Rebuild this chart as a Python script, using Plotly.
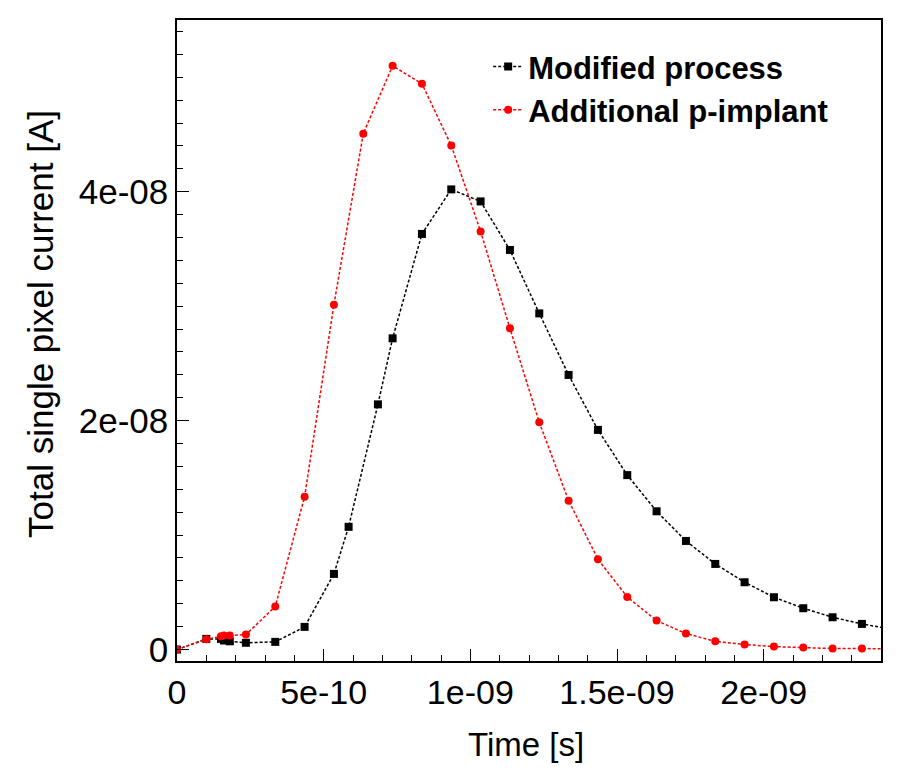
import plotly.graph_objects as go

# Time values [s]
t_mod = [0, 1.0e-10, 1.5e-10, 1.6e-10, 1.8e-10, 2.35e-10, 3.35e-10, 4.35e-10, 5.35e-10, 5.85e-10,
         6.85e-10, 7.35e-10, 8.35e-10, 9.35e-10, 10.35e-10, 11.35e-10, 12.35e-10, 13.35e-10,
         14.35e-10, 15.35e-10, 16.35e-10, 17.35e-10, 18.35e-10, 19.35e-10, 20.35e-10, 21.35e-10,
         22.35e-10, 23.35e-10, 24.35e-10]
i_mod = [0, 9.3e-10, 9.3e-10, 7.9e-10, 7.2e-10, 5.9e-10, 6.7e-10, 1.98e-09, 6.61e-09, 1.072e-08,
         2.142e-08, 2.719e-08, 3.631e-08, 4.020e-08, 3.915e-08, 3.491e-08, 2.937e-08, 2.399e-08,
         1.919e-08, 1.524e-08, 1.208e-08, 9.49e-09, 7.48e-09, 5.88e-09, 4.57e-09, 3.61e-09,
         2.82e-09, 2.24e-09, 1.78e-09]

t_imp = [0, 1.0e-10, 1.5e-10, 1.6e-10, 1.8e-10, 2.35e-10, 3.35e-10, 4.35e-10, 5.35e-10, 6.35e-10,
         7.35e-10, 8.35e-10, 9.35e-10, 10.35e-10, 11.35e-10, 12.35e-10, 13.35e-10, 14.35e-10,
         15.35e-10, 16.35e-10, 17.35e-10, 18.35e-10, 19.35e-10, 20.35e-10, 21.35e-10, 22.35e-10,
         23.35e-10, 24.35e-10]
i_imp = [0, 9.0e-10, 1.16e-09, 1.22e-09, 1.22e-09, 1.31e-09, 3.76e-09, 1.336e-08, 3.013e-08, 4.507e-08,
         5.100e-08, 4.943e-08, 4.404e-08, 3.653e-08, 2.806e-08, 1.985e-08, 1.301e-08, 7.89e-09,
         4.59e-09, 2.53e-09, 1.40e-09, 7.2e-10, 4.4e-10, 2.6e-10, 1.7e-10, 0.9e-10,
         0.9e-10, 0.5e-10]

names = ["Modified process", "Additional p-implant"]
x_tickvals = [0, 5e-10, 1e-09, 1.5e-09, 2e-09]
x_ticktext = ["0", "5e-10", "1e-09", "1.5e-09", "2e-09"]
y_tickvals = [0, 2e-08, 4e-08]
y_ticktext = ["0", "2e-08", "4e-08"]
x_title = "Time [s]"
y_title = "Total single pixel current [A]"

FONT = "Liberation Sans, Arial, sans-serif"

fig = go.Figure()
fig.add_trace(go.Scatter(
    x=t_mod, y=i_mod, name=names[0], mode="lines+markers",
    line=dict(color="black", width=1.5, dash="3px,2px"),
    marker=dict(symbol="square", size=8, color="black"),
))
fig.add_trace(go.Scatter(
    x=t_imp, y=i_imp, name=names[1], mode="lines+markers",
    line=dict(color="#ff0000", width=1.5, dash="3px,2px"),
    marker=dict(symbol="circle", size=8, color="#ff0000"),
))

fig.update_layout(
    width=900, height=781,
    margin=dict(l=177, r=19, t=20, b=120),
    plot_bgcolor="white", paper_bgcolor="white",
    font=dict(family=FONT, color="black", size=28),
    showlegend=True,
    legend=dict(
        x=0.442, y=0.969, xanchor="left", yanchor="top",
        bgcolor="rgba(0,0,0,0)", borderwidth=0,
        font=dict(family=FONT, size=31, color="black", weight="bold"),
        tracegroupgap=4,
    ),
    annotations=[
        dict(text=x_title, xref="paper", yref="paper", x=0.496, y=-0.1295,
             xanchor="center", yanchor="middle", showarrow=False,
             font=dict(family=FONT, size=33, color="black")),
        dict(text=y_title, xref="paper", yref="paper", x=-0.193, y=0.526,
             xanchor="center", yanchor="middle", showarrow=False, textangle=-90,
             font=dict(family=FONT, size=35, color="black")),
    ],
)

fig.update_xaxes(
    range=[0, 2.4e-09],
    tickmode="array", tickvals=x_tickvals, ticktext=x_ticktext,
    ticks="inside", ticklen=12, tickwidth=1.2, tickcolor="black",
    minor=dict(dtick=1e-10, ticks="inside", ticklen=6, tickwidth=1, tickcolor="black", showgrid=False),
    showline=True, linecolor="black", linewidth=1.5, mirror=True,
    showgrid=False, zeroline=False,
    tickfont=dict(family=FONT, size=34),
)
fig.update_yaxes(
    range=[-1e-09, 5.5e-08],
    tickmode="array", tickvals=y_tickvals, ticktext=y_ticktext,
    ticks="inside", ticklen=12, tickwidth=1.2, tickcolor="black",
    minor=dict(dtick=2e-09, tick0=0, ticks="inside", ticklen=6, tickwidth=1, tickcolor="black", showgrid=False),
    showline=True, linecolor="black", linewidth=1.5, mirror=True,
    showgrid=False, zeroline=False,
    tickfont=dict(family=FONT, size=35),
)

fig.write_html("out.html")
